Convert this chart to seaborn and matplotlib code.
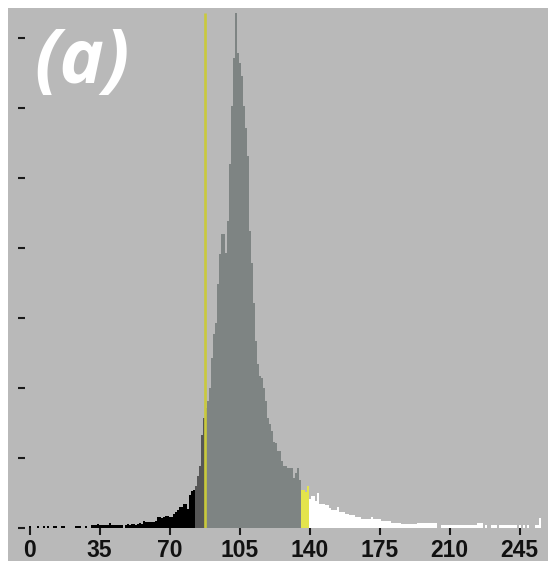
import numpy as np
import pandas as pd
import matplotlib
matplotlib.use("Agg")
import matplotlib.pyplot as plt
from matplotlib.patches import Rectangle
import seaborn as sns

# Grey-level histogram (0..255) with threshold bands
levels = list(range(256))
counts = [
    2, 0, 0, 0, 2, 0, 0, 2, 0, 2,
    0, 0, 2, 2, 0, 0, 2, 2, 0, 0,
    0, 0, 0, 2, 2, 2, 0, 0, 2, 0,
    0, 3, 3, 3, 4, 3, 3, 3, 3, 3,
    5, 3, 3, 3, 3, 3, 3, 0, 3, 4,
    3, 4, 4, 3, 4, 5, 4, 7, 6, 6,
    6, 6, 6, 7, 11, 11, 10, 11, 12, 12,
    11, 11, 14, 16, 18, 21, 21, 24, 24, 19,
    33, 37, 38, 42, 52, 62, 93, 110, 120, 127,
    140, 170, 194, 205, 244, 274, 294, 294, 275, 307,
    364, 422, 470, 515, 475, 465, 452, 422, 400, 372,
    297, 265, 225, 187, 164, 152, 150, 140, 127, 110,
    104, 97, 86, 85, 77, 77, 67, 62, 62, 60,
    60, 60, 50, 55, 60, 48, 38, 38, 36, 42,
    29, 32, 32, 27, 35, 24, 24, 24, 23, 23,
    20, 18, 18, 18, 21, 16, 16, 16, 14, 14,
    13, 13, 13, 11, 11, 11, 9, 9, 9, 9,
    9, 11, 9, 9, 9, 9, 7, 7, 7, 7,
    7, 5, 5, 5, 5, 5, 4, 4, 4, 4,
    4, 4, 4, 4, 5, 5, 5, 5, 5, 5,
    5, 5, 5, 5, 0, 0, 3, 3, 3, 3,
    3, 3, 3, 3, 3, 3, 3, 3, 3, 3,
    3, 3, 3, 3, 5, 5, 5, 0, 3, 0,
    0, 3, 3, 3, 0, 3, 3, 3, 3, 3,
    3, 3, 3, 3, 0, 3, 0, 3, 0, 3,
    0, 0, 0, 3, 3, 10,
]
level_ticks = [0, 35, 70, 105, 140, 175, 210, 245]
count_ticks = [0, 70, 140, 210, 280, 350, 420, 490]
shadow_start = 83          # first level of the dark-grey band
mid_start = 88             # first level of the main band
bright_band = (136, 139)   # highlighted band above the main body
threshold = 87.75          # threshold marker
panel_label = "(a)"


def band_of(v):
    if v < shadow_start:
        return "shadow"
    if v < mid_start:
        return "low"
    if v < bright_band[0]:
        return "mid"
    if v <= bright_band[1]:
        return "band"
    return "high"


df = pd.DataFrame({"level": levels, "count": counts})
df["band"] = [band_of(v) for v in levels]
palette = {
    "shadow": "#000000",
    "low": "#565656",
    "mid": "#7e8483",
    "band": "#e4e44c",
    "high": "#ffffff",
}

W, H = 557, 561
fig = plt.figure(figsize=(W / 100, H / 100), dpi=100, facecolor="white")
panel_bg = Rectangle((8 / W, 0), (548 - 8) / W, (H - 8) / H,
                     transform=fig.transFigure, facecolor="#b9b9b9",
                     edgecolor="none", zorder=-10)
fig.patches.append(panel_bg)

ax = fig.add_axes([25 / W, (H - 527.5) / H, (548 - 25) / W, (527.5 - 8) / H])
ax.set_facecolor("none")
ax.set_zorder(1)

sns.histplot(data=df, x="level", weights="count", hue="band",
             hue_order=["shadow", "low", "mid", "band", "high"],
             palette=palette, discrete=True, element="step", fill=True,
             alpha=1, linewidth=0, legend=False, ax=ax)

ax.vlines(threshold, 0, max(counts), color="#c9c93c", linewidth=1.9, zorder=5)

ax.set_xlim(-2.25, 259.25)
ax.set_ylim(0, 519.5)
ax.set_xticks(level_ticks)
ax.set_yticks(count_ticks)
ax.set_yticklabels([])
ax.set_xlabel("")
ax.set_ylabel("")
for s in ax.spines.values():
    s.set_visible(False)
ax.tick_params(axis="both", direction="out", length=5, width=1.5,
               color="#1a1a1a")
ax.tick_params(axis="x", pad=3)
for lab in ax.get_xticklabels():
    lab.set_fontfamily("Liberation Sans")
    lab.set_fontweight("bold")
    lab.set_fontsize(16.5)
    lab.set_color("#111111")

fig.text(34 / W, 1 - 26 / H, panel_label, color="white", fontsize=54,
         fontweight="bold", fontstyle="italic", family="Open Sans",
         ha="left", va="top", zorder=10)

fig.savefig("out.png", dpi=100, facecolor=fig.get_facecolor())
